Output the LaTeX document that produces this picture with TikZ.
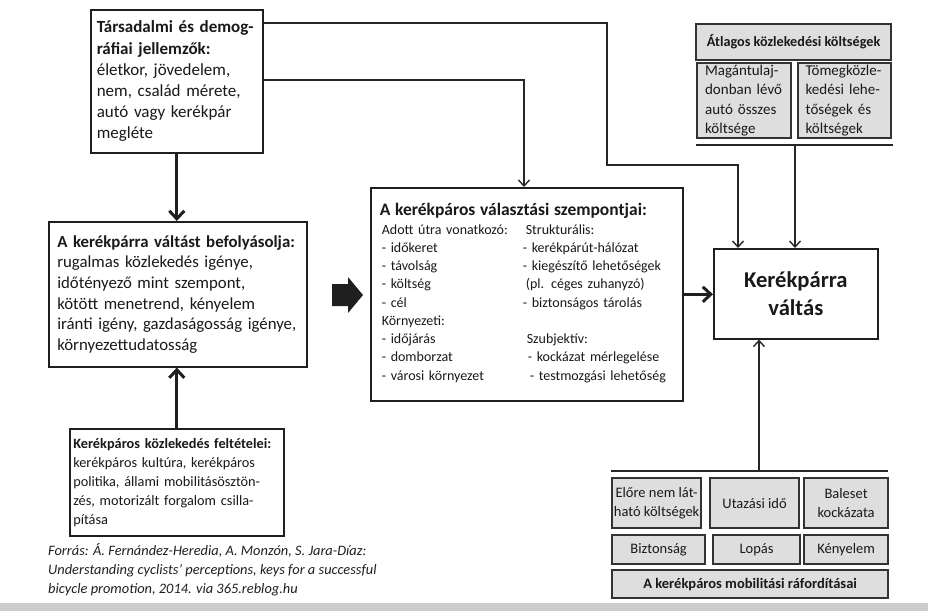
\documentclass[tikz,border=0pt]{standalone}
\usepackage{fontspec}
\setmainfont{Carlito}
\usetikzlibrary{arrows.meta}
\begin{document}
\begin{tikzpicture}[x=1pt,y=-1pt,
  box/.style={draw=black!88,line width=1.6pt,fill=white,anchor=north west,inner sep=0pt,align=left,text=black!90},
  greybox/.style={draw=black!80,line width=2.2pt,fill=black!13,anchor=north west,inner sep=0pt,align=center,text=black!90},
  thin/.style={draw=black!85,line width=1.4pt,-{Straight Barb[length=6pt,width=11pt]}},
  thick/.style={draw=black!88,line width=3pt,-{Straight Barb[length=8pt,width=15pt]}},
  bar/.style={draw=black!85,line width=2pt}]
\useasboundingbox (0,0) rectangle (928,611);
\fill[black!20] (0,603) rectangle (928,611);

% boxes
\node[box,minimum width=172pt,minimum height=143pt,text width=160pt,
  font=\fontsize{17}{21.2}\selectfont] (tl) at (90,9)
 {\textbf{Társadalmi és demog-\\ráfiai jellemzők:}\\életkor, jövedelem,\\nem, család mérete,\\autó vagy kerékpár\\megléte};

\node[box,minimum width=258pt,minimum height=145pt,text width=241pt,
  font=\fontsize{16.8}{20.7}\selectfont] (inf) at (48,221)
 {\mbox{\textbf{A kerékpárra váltást befolyásolja:}}\\rugalmas közlekedés igénye,\\időtényező mint szempont,\\kötött menetrend, kényelem\\\mbox{iránti igény, gazdaságosság igénye,}\\környezettudatosság};

\node[box,minimum width=214pt,minimum height=107pt,text width=207pt,
  font=\fontsize{14.3}{19}\selectfont] (bl) at (69,428)
 {\textbf{Kerékpáros közlekedés feltételei:}\\kerékpáros kultúra, kerékpáros\\politika, állami mobilitásösztön-\\zés, motorizált forgalom csilla-\\pítása\\[4pt]};

\node[box,minimum width=312pt,minimum height=213pt,text width=294pt,
  font=\fontsize{14}{18.25}\selectfont] (ctr) at (370,187)
 {{\fontsize{17.5}{21}\selectfont\textbf{A kerékpáros választási szempontjai:}}\\[2pt]
  \begin{tabular}{@{\hspace{2pt}}p{141pt}@{}l@{}}
  Adott útra vonatkozó: & \hspace{3pt}Strukturális:\\
  - időkeret & - kerékpárút-hálózat\\
  - távolság & - kiegészítő lehetőségek\\
  - költség & \hspace{3pt}(pl. céges zuhanyzó)\\
  - cél & - biztonságos tárolás\\
  Környezeti: & \\
  - időjárás & \hspace{4pt}Szubjektív:\\
  - domborzat & \hspace{5pt}- kockázat mérlegelése\\
  - városi környezet & \hspace{7pt}- testmozgási lehetőség
  \end{tabular}\\[5pt]};

\node[box,align=center,minimum width=164pt,minimum height=90pt,text width=160pt,
  font=\fontsize{22.6}{27.5}\selectfont\bfseries] (kv) at (713,248)
 {Kerékpárra\\váltás};

% top right grey boxes
\node[greybox,minimum width=195pt,minimum height=36pt,
  font=\fontsize{14.2}{17}\selectfont\bfseries] (hdr) at (695,23)
 {Átlagos közlekedési költségek};
\node[greybox,align=left,minimum width=94pt,minimum height=75pt,text width=78pt,
  font=\fontsize{15}{19.3}\selectfont] (m1) at (696,62)
 {Magántulaj-\\donban lévő\\autó összes\\költsége};
\node[greybox,align=left,minimum width=93pt,minimum height=75pt,text width=78pt,
  font=\fontsize{15}{19.3}\selectfont] (m2) at (797,62)
 {Tömegközle-\\kedési lehe-\\tőségek és\\költségek};

% bottom right grey boxes
\node[greybox,minimum width=89pt,minimum height=50pt,font=\fontsize{14.5}{19}\selectfont] (b1) at (611,477)
 {Előre nem lát-\\ható költségek};
\node[greybox,minimum width=89pt,minimum height=50pt,font=\fontsize{14.5}{19}\selectfont] (b2) at (709,477)
 {Utazási idő};
\node[greybox,minimum width=84pt,minimum height=50pt,font=\fontsize{14.5}{19}\selectfont] (b3) at (803,477)
 {Baleset\\kockázata};
\node[greybox,minimum width=93pt,minimum height=29pt,font=\fontsize{14.5}{17}\selectfont] (c1) at (611,534)
 {Biztonság};
\node[greybox,minimum width=87pt,minimum height=29pt,font=\fontsize{14.5}{17}\selectfont] (c2) at (712,534)
 {Lopás};
\node[greybox,minimum width=84pt,minimum height=29pt,font=\fontsize{14.5}{17}\selectfont] (c3) at (803,534)
 {Kényelem};
\node[greybox,minimum width=276pt,minimum height=28pt,font=\fontsize{14.5}{17}\selectfont\bfseries] (d) at (611,569)
 {A kerékpáros mobilitási ráfordításai};

% source
\node[anchor=north west,inner sep=0pt,align=left,text=black!88,
  font=\fontsize{14.4}{19}\selectfont\itshape] (src) at (48,543)
 {Forrás: Á. Fernández-Heredia, A. Monzón, S. Jara-Díaz:\\Understanding cyclists’ perceptions, keys for a successful\\bicycle promotion, 2014. via 365.reblog.hu};

% bars
\coordinate (tbL) at (696,145);
\coordinate (tbR) at (893,145);
\coordinate (tbM) at (795,145);
\coordinate (bbL) at (611,471);
\coordinate (bbR) at (888,471);
\coordinate (bbM) at (759,471);
\draw[bar] (tbL) -- (tbR);
\draw[bar] (bbL) -- (bbR);

% connectors
\draw[thin] ([yshift=-14pt]tl.north east) -- (607,23) -- (607,165) -- (738,165) -- ([xshift=25pt]kv.north west);
\draw[thin] ([yshift=-71pt]tl.north east) -- (524,80) -- ([xshift=154pt]ctr.north west);
\draw[thin] (tbM) -- (tbM |- kv.north);
\draw[thin] (bbM) -- (bbM |- kv.south);
\draw[thick] (tl.south) -- (tl.south |- inf.north);
\draw[thick] (bl.north) -- (bl.north |- inf.south);
\draw[thick] (ctr.east) -- (ctr.east -| kv.west);

% block arrow
\fill[black!88] (332,284) -- (348,284) -- (348,277) -- (363,295) -- (348,313) -- (348,306) -- (332,306) -- cycle;
\end{tikzpicture}
\end{document}
